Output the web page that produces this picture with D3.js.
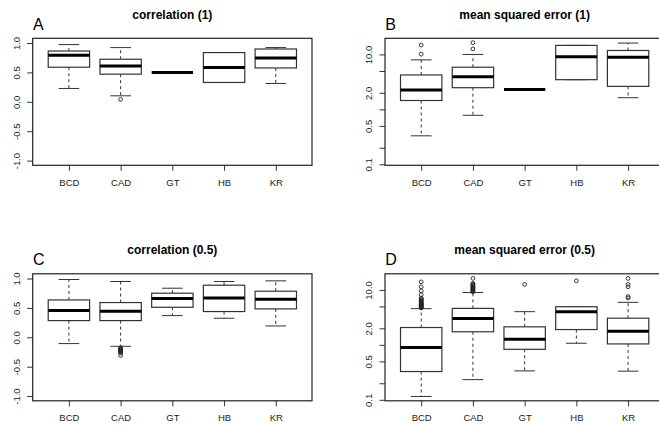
<!DOCTYPE html>
<html>
<head>
<meta charset="utf-8">
<script src="https://cdn.jsdelivr.net/npm/d3@7"></script>
<style>
  body { margin: 0; background: #fff; }
  svg { display: block; }
  svg text { font-family: "Liberation Sans", Arial, Helvetica, sans-serif; }
</style>
</head>
<body>
<div id="fig"></div>
<script>
var width = 659,
    height = 425

// methods on the x axis
const categories = ["BCD", "CAD", "GT", "HB", "KR"];

// box stats per method: [lower whisker, Q1, median, Q3, upper whisker]
const corr1Stats = [
  [0.227, 0.588, 0.79, 0.864, 0.973],
  [0.102, 0.47, 0.61, 0.724, 0.922],
  [0.498, 0.498, 0.498, 0.498, 0.498],
  [0.329, 0.329, 0.583, 0.837, 0.837],
  [0.312, 0.576, 0.746, 0.898, 0.922]
];
const corr1Out = [[], [0.04], [], [], []];

const mse1Stats = [
  [0.33, 1.45, 2.24, 4.23, 7.96],
  [0.78, 2.48, 3.94, 5.85, 10.0],
  [2.31, 2.31, 2.31, 2.31, 2.31],
  [3.47, 3.47, 9.04, 14.6, 14.6],
  [1.63, 2.62, 8.9, 11.8, 16.1]
];
const mse1Out = [[10.1, 14.8], [12.6, 16.4], [], [], []];

const corr05Stats = [
  [-0.107, 0.284, 0.455, 0.635, 0.983],
  [-0.153, 0.284, 0.443, 0.591, 0.949],
  [0.369, 0.511, 0.659, 0.75, 0.835],
  [0.324, 0.438, 0.67, 0.886, 0.949],
  [0.193, 0.483, 0.648, 0.784, 0.96]
];
const corr05Out = [[], [-0.18, -0.19, -0.2, -0.21, -0.22, -0.23, -0.24, -0.25, -0.27, -0.31], [], [], []];

const mse05Stats = [
  [0.115, 0.327, 0.90, 2.07, 4.56],
  [0.233, 1.73, 3.03, 4.61, 8.96],
  [0.336, 0.83, 1.26, 2.13, 4.02],
  [1.07, 1.90, 4.02, 4.95, 4.95],
  [0.332, 1.04, 1.77, 3.06, 5.94]
];
const mse05Out = [
  [4.7, 4.8, 4.9, 5.0, 5.1, 5.2, 5.35, 5.5, 5.65, 5.8, 6.0, 6.2, 6.4, 6.6, 6.9, 7.1, 8.2, 9.6, 11.4, 14.0],
  [9.2, 9.5, 9.8, 10.1, 10.4, 10.7, 11.0, 11.4, 11.8, 12.2, 12.7, 13.1, 16.2],
  [12.6],
  [14.6],
  [7.13, 7.55, 11.4, 12.6, 16.2]
];

// y axis ticks
const corrTicks = [-1, -0.5, 0, 0.5, 1];
const logTicks = [0.1, 0.2, 0.5, 1, 2, 5, 10];
const logLabels = {0.1: "0.1", 0.5: "0.5", 2: "2.0", 10: "10.0"};

const panels = [
  {letter: "A", title: "correlation (1)", stats: corr1Stats, out: corr1Out, log: false, col: 0, row: 0},
  {letter: "B", title: "mean squared error (1)", stats: mse1Stats, out: mse1Out, log: true, col: 1, row: 0},
  {letter: "C", title: "correlation (0.5)", stats: corr05Stats, out: corr05Out, log: false, col: 0, row: 1},
  {letter: "D", title: "mean squared error (0.5)", stats: mse05Stats, out: mse05Out, log: true, col: 1, row: 1}
];

var svg = d3.select("#fig").append("svg")
    .attr("width", width)
    .attr("height", height);

var pw = 279.3, ph = 127;

panels.forEach(function(p) {
  var left = 32.7 + p.col * 352.3,
      top = 38.3 + p.row * 235.5;

  var g = svg.append("g").attr("transform", "translate(" + left + "," + top + ")");

  var x = d3.scaleLinear().domain([0.3, 5.7]).range([0, pw]);
  var y = p.log
    ? d3.scaleLog().domain([0.0959, 19.66]).range([ph, 0])
    : d3.scaleLinear().domain([-1.08, 1.08]).range([ph, 0]);

  // title + panel letter
  svg.append("text")
      .attr("x", left + pw / 2)
      .attr("y", top - 19.5)
      .attr("text-anchor", "middle")
      .style("font-size", "12px")
      .style("font-weight", "bold")
      .text(p.title);
  svg.append("text")
      .attr("x", left + 0.3)
      .attr("y", top - 8.8)
      .style("font-size", "16px")
      .text(p.letter);

  // axes
  var yAxis = d3.axisLeft(y)
      .tickValues(p.log ? logTicks : corrTicks)
      .tickSize(5.5)
      .tickFormat(function(d) {
        if (p.log) return logLabels[d] || "";
        return d3.format(".1f")(d).replace("−", "-");
      });
  var ya = g.append("g").call(yAxis);
  ya.select(".domain").remove();
  ya.selectAll("line").attr("stroke", "#333");
  ya.selectAll("text")
      .attr("x", null).attr("dy", null)
      .attr("text-anchor", "middle")
      .attr("transform", "translate(-13,0) rotate(-90)")
      .style("font-size", "9.5px")
      .attr("fill", "#222");

  var xAxis = d3.axisBottom(x)
      .tickValues([1, 2, 3, 4, 5])
      .tickSize(5.5)
      .tickFormat(function(d) { return categories[d - 1]; });
  var xa = g.append("g").attr("transform", "translate(0," + ph + ")").call(xAxis);
  xa.select(".domain").remove();
  xa.selectAll("line").attr("stroke", "#333");
  xa.selectAll("text")
      .attr("y", 20.5).attr("dy", "0")
      .style("font-size", "9.5px")
      .attr("fill", "#222");

  // boxes
  var bw = x(1.4) - x(1),
      sw = x(1.2) - x(1);
  var box = g.selectAll(".box")
      .data(p.stats)
      .enter().append("g")
      .attr("class", "box")
      .attr("transform", function(d, i) { return "translate(" + x(i + 1) + ",0)"; });

  box.append("line")
      .attr("y1", function(d) { return y(d[3]); })
      .attr("y2", function(d) { return y(d[4]); })
      .attr("stroke", "#333").attr("stroke-dasharray", "3,3");
  box.append("line")
      .attr("y1", function(d) { return y(d[1]); })
      .attr("y2", function(d) { return y(d[0]); })
      .attr("stroke", "#333").attr("stroke-dasharray", "3,3");
  box.append("line")
      .attr("x1", -sw).attr("x2", sw)
      .attr("y1", function(d) { return y(d[4]); })
      .attr("y2", function(d) { return y(d[4]); })
      .attr("stroke", "#333");
  box.append("line")
      .attr("x1", -sw).attr("x2", sw)
      .attr("y1", function(d) { return y(d[0]); })
      .attr("y2", function(d) { return y(d[0]); })
      .attr("stroke", "#333");
  box.append("rect")
      .attr("x", -bw).attr("width", 2 * bw)
      .attr("y", function(d) { return y(d[3]); })
      .attr("height", function(d) { return y(d[1]) - y(d[3]); })
      .attr("fill", "#fff")
      .attr("stroke", "#333")
      .attr("stroke-width", 1.2);
  box.append("line")
      .attr("x1", -bw).attr("x2", bw)
      .attr("y1", function(d) { return y(d[2]); })
      .attr("y2", function(d) { return y(d[2]); })
      .attr("stroke", "#000")
      .attr("stroke-width", 3);

  // outliers
  box.selectAll("circle")
      .data(function(d, i) { return p.out[i]; })
      .enter().append("circle")
      .attr("r", 1.9)
      .attr("cy", function(v) { return y(v); })
      .attr("fill", "none")
      .attr("stroke", "#222")
      .attr("stroke-width", 0.9);

  // frame
  g.append("rect")
      .attr("width", pw).attr("height", ph)
      .attr("fill", "none")
      .attr("stroke", "#222")
      .attr("stroke-width", 1.2);
});
</script>
</body>
</html>
